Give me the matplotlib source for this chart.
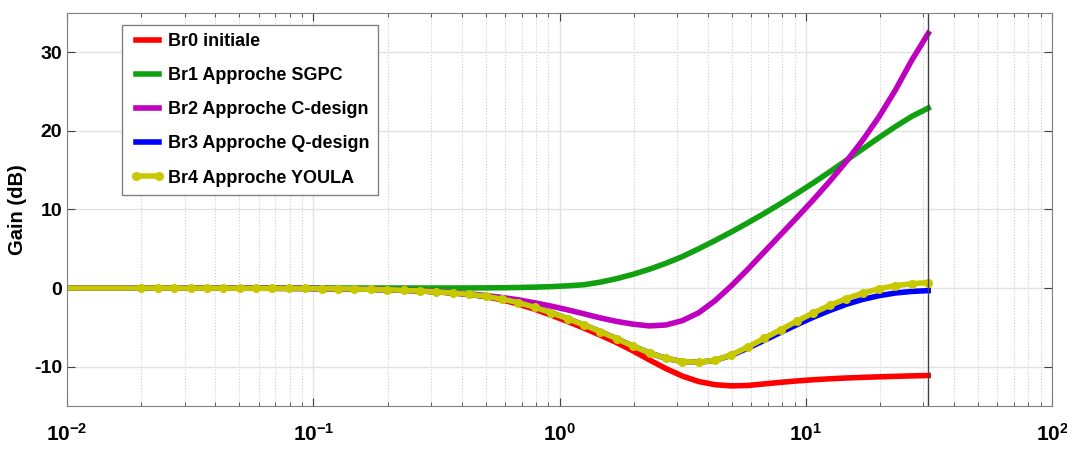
"""plot.py makes the Bode gain plot of the five Br designs."""
import numpy as np
import matplotlib as mpl
mpl.use('Agg')
import matplotlib.pyplot as plt
from matplotlib.ticker import LogLocator, NullFormatter, FixedLocator

# frequency grid (rad/s): first point 0.01, then 49 log steps 0.02 .. 31.4
w = np.concatenate(([0.01], np.logspace(np.log10(0.02), np.log10(31.4), 49)))

low = [0.0, 0.0, 0.0, 0.0, -0.01, -0.01, -0.01, -0.02, -0.02, -0.03,
       -0.04, -0.05, -0.07, -0.09, -0.12, -0.16, -0.21, -0.28]   # w[0]..k16

br0 = low + [-0.37, -0.48, -0.62, -0.8, -1.1, -1.5, -2.05, -2.7, -3.45,
             -4.25, -5.1, -6.0, -6.95, -8.0, -9.15, -10.25, -11.2, -11.9,
             -12.3, -12.45, -12.4, -12.2, -12.0, -11.82, -11.67, -11.55,
             -11.45, -11.37, -11.3, -11.24, -11.18, -11.13]
br1 = [0.0] * 21 + [0.01, 0.02, 0.04, 0.07, 0.11, 0.18, 0.28, 0.42, 0.75,
                    1.2, 1.75, 2.4, 3.15, 4.0, 5.0, 6.05, 7.15, 8.3, 9.5,
                    10.75, 12.05, 13.4, 14.8, 16.25, 17.7, 19.15, 20.55,
                    21.85, 22.9]
br2 = low + [-0.35, -0.45, -0.58, -0.74, -0.95, -1.2, -1.5, -1.88, -2.3,
             -2.77, -3.28, -3.8, -4.25, -4.6, -4.82, -4.7, -4.15, -3.15,
             -1.6, 0.3, 2.4, 4.6, 6.8, 9.0, 11.25, 13.6, 16.1, 18.8, 21.8,
             25.2, 29.0, 32.4]
br3 = low + [-0.37, -0.48, -0.62, -0.8, -1.05, -1.4, -1.85, -2.45, -3.15,
             -3.9, -4.7, -5.55, -6.45, -7.4, -8.25, -8.95, -9.35, -9.45, -9.2,
             -8.55, -7.65, -6.65, -5.65, -4.65, -3.7, -2.85, -2.07, -1.45,
             -0.97, -0.63, -0.43, -0.33]
br4 = low + [-0.37, -0.48, -0.62, -0.8, -1.05, -1.4, -1.85, -2.45, -3.15,
             -3.9, -4.7, -5.55, -6.45, -7.4, -8.25, -8.95, -9.35, -9.45, -9.2,
             -8.5, -7.5, -6.4, -5.3, -4.2, -3.15, -2.2, -1.35, -0.65, -0.1,
             0.3, 0.55, 0.7]

labels = ['Br0 initiale', 'Br1 Approche SGPC', 'Br2 Approche C-design',
          'Br3 Approche Q-design', 'Br4 Approche YOULA']
colors = ['#ff0000', '#10a010', '#c000c0', '#0000ff', '#c8c800']
xticks = [1e-2, 1e-1, 1e0, 1e1, 1e2]
xticklabels = [r'$\mathbf{10^{-2}}$', r'$\mathbf{10^{-1}}$', r'$\mathbf{10^{0}}$',
               r'$\mathbf{10^{1}}$', r'$\mathbf{10^{2}}$']

FONT = ['Liberation Sans', 'DejaVu Sans']
mpl.rcParams.update({'mathtext.fontset': 'custom',
                     'mathtext.rm': 'Liberation Sans:bold',
                     'mathtext.bf': 'Liberation Sans:bold'})


def main():
    fig = plt.figure(figsize=(10.67, 4.5), dpi=100)
    ax = fig.add_axes([0.063, 0.098, 0.923, 0.873])

    for y, lab, c in zip([br0, br1, br2, br3], labels[:4], colors[:4]):
        ax.semilogx(w, y, color=c, lw=4, label=lab)
    ax.semilogx(w, br4, color=colors[4], lw=4, label=labels[4],
                marker='o', ms=5.5, markevery=list(range(1, len(w))))
    ax.axvline(w[-1], color='#404040', lw=1)

    ax.set_xlim(1e-2, 1e2)
    ax.set_ylim(-15, 35)
    ax.set_yticks([-10, 0, 10, 20, 30])
    ax.set_yticklabels(['-10', '0', '10', '20', '30'])
    ax.xaxis.set_major_locator(FixedLocator(xticks))
    ax.set_xticklabels(xticklabels)
    ax.xaxis.set_minor_locator(LogLocator(base=10, subs=np.arange(2, 10), numticks=20))
    ax.xaxis.set_minor_formatter(NullFormatter())
    ax.grid(True, which='major', color='#e2e2e2', lw=1, ls='-')
    ax.grid(True, which='minor', axis='x', color='#cccccc', lw=0.8, ls=':')
    ax.set_axisbelow(True)
    ax.tick_params(which='both', direction='in', top=True, right=True,
                   colors='#404040', labelcolor='black')
    ax.tick_params(which='major', length=6)
    ax.tick_params(which='minor', length=3)
    ax.tick_params(axis='x', labelsize=15, pad=12)
    for s in ax.spines.values():
        s.set_color('#808080')
    for t in ax.get_yticklabels():
        t.set_family(FONT)
        t.set_weight('bold')
        t.set_fontsize(14)
    ax.set_ylabel('Gain (dB)', fontsize=14.5, fontweight='bold',
                  family=FONT, labelpad=5)

    leg = ax.legend(loc='upper left', bbox_to_anchor=(0.056, 0.97),
                    prop={'family': FONT, 'weight': 'bold', 'size': 13},
                    handlelength=1.9, handletextpad=0.2, labelspacing=0.95,
                    borderpad=0.45, borderaxespad=0, fancybox=False,
                    framealpha=1, numpoints=2)
    leg.get_frame().set_edgecolor('#808080')
    return fig


if __name__ == '__main__':
    fig = main()
    fig.savefig('out.png', dpi=100)
